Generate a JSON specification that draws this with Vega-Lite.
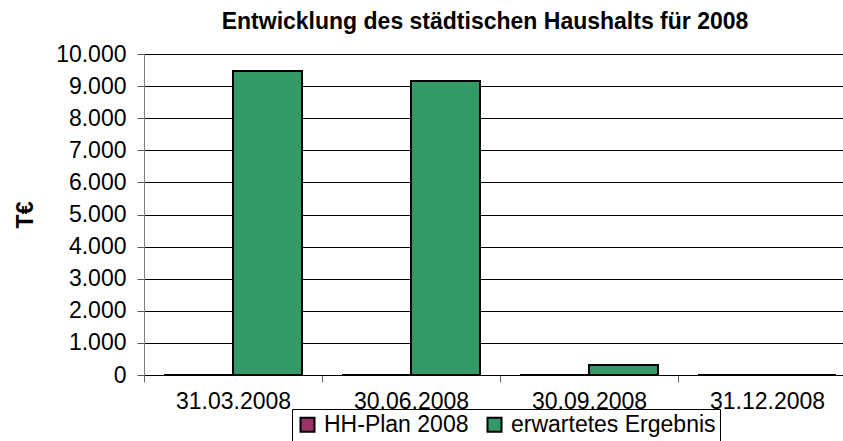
{
  "$schema": "https://vega.github.io/schema/vega-lite/v6.json",
  "width": 712,
  "height": 321,
  "autosize": {"type": "none"},
  "padding": {"left": 144, "top": 54, "right": 0, "bottom": 66},
  "background": "white",
  "title": {
    "text": "Entwicklung des städtischen Haushalts für 2008",
    "font": "Liberation Sans",
    "fontSize": 23,
    "fontWeight": "bold",
    "color": "black",
    "anchor": "middle",
    "dx": -15,
    "offset": 9
  },
  "data": {
    "values": [
      {"datum": "31.03.2008", "series": "HH-Plan 2008", "value": 0},
      {"datum": "31.03.2008", "series": "erwartetes Ergebnis", "value": 9470},
      {"datum": "30.06.2008", "series": "HH-Plan 2008", "value": 0},
      {"datum": "30.06.2008", "series": "erwartetes Ergebnis", "value": 9160},
      {"datum": "30.09.2008", "series": "HH-Plan 2008", "value": 0},
      {"datum": "30.09.2008", "series": "erwartetes Ergebnis", "value": 310},
      {"datum": "31.12.2008", "series": "HH-Plan 2008", "value": 0},
      {"datum": "31.12.2008", "series": "erwartetes Ergebnis", "value": 0}
    ]
  },
  "mark": {"type": "bar", "stroke": "black", "strokeWidth": 2},
  "encoding": {
    "x": {
      "field": "datum",
      "type": "nominal",
      "sort": ["31.03.2008", "30.06.2008", "30.09.2008", "31.12.2008"],
      "scale": {"paddingInner": 0, "paddingOuter": 0},
      "axis": {
        "title": null,
        "labelAngle": 0,
        "labelFont": "Liberation Sans",
        "labelFontSize": 23,
        "labelColor": "black",
        "labelPadding": 8,
        "tickBand": "extent",
        "tickSize": 7,
        "tickColor": "#666666",
        "domainColor": "black",
        "grid": false
      }
    },
    "xOffset": {
      "field": "series",
      "type": "nominal",
      "sort": ["HH-Plan 2008", "erwartetes Ergebnis"],
      "scale": {"paddingInner": 0, "paddingOuter": 0.29}
    },
    "y": {
      "field": "value",
      "type": "quantitative",
      "scale": {"domain": [0, 10000], "nice": false},
      "axis": {
        "title": "T€",
        "titleFont": "Liberation Sans",
        "titleFontSize": 23,
        "titleFontWeight": "bold",
        "titleColor": "black",
        "titlePadding": 18,
        "values": [0, 1000, 2000, 3000, 4000, 5000, 6000, 7000, 8000, 9000, 10000],
        "labelExpr": "replace(format(datum.value, ','), ',', '.')",
        "labelFont": "Liberation Sans",
        "labelFontSize": 23,
        "labelColor": "black",
        "labelPadding": 11,
        "tickSize": 7,
        "tickColor": "#555555",
        "domainColor": "#808080",
        "grid": true,
        "gridColor": "black",
        "gridWidth": 1
      }
    },
    "color": {
      "field": "series",
      "type": "nominal",
      "sort": ["HH-Plan 2008", "erwartetes Ergebnis"],
      "scale": {"domain": ["HH-Plan 2008", "erwartetes Ergebnis"], "range": ["#993366", "#339966"]},
      "legend": {
        "title": null,
        "orient": "none",
        "direction": "horizontal",
        "legendX": 148,
        "legendY": 355,
        "strokeColor": "black",
        "fillColor": "white",
        "padding": 4,
        "symbolType": "square",
        "symbolSize": 196,
        "symbolStrokeColor": "black",
        "symbolStrokeWidth": 2,
        "symbolOpacity": 1,
        "labelFont": "Liberation Sans",
        "labelFontSize": 23,
        "labelColor": "black",
        "labelOffset": 5,
        "labelLimit": 0,
        "columnPadding": 14
      }
    }
  },
  "config": {
    "view": {"stroke": null}
  }
}
